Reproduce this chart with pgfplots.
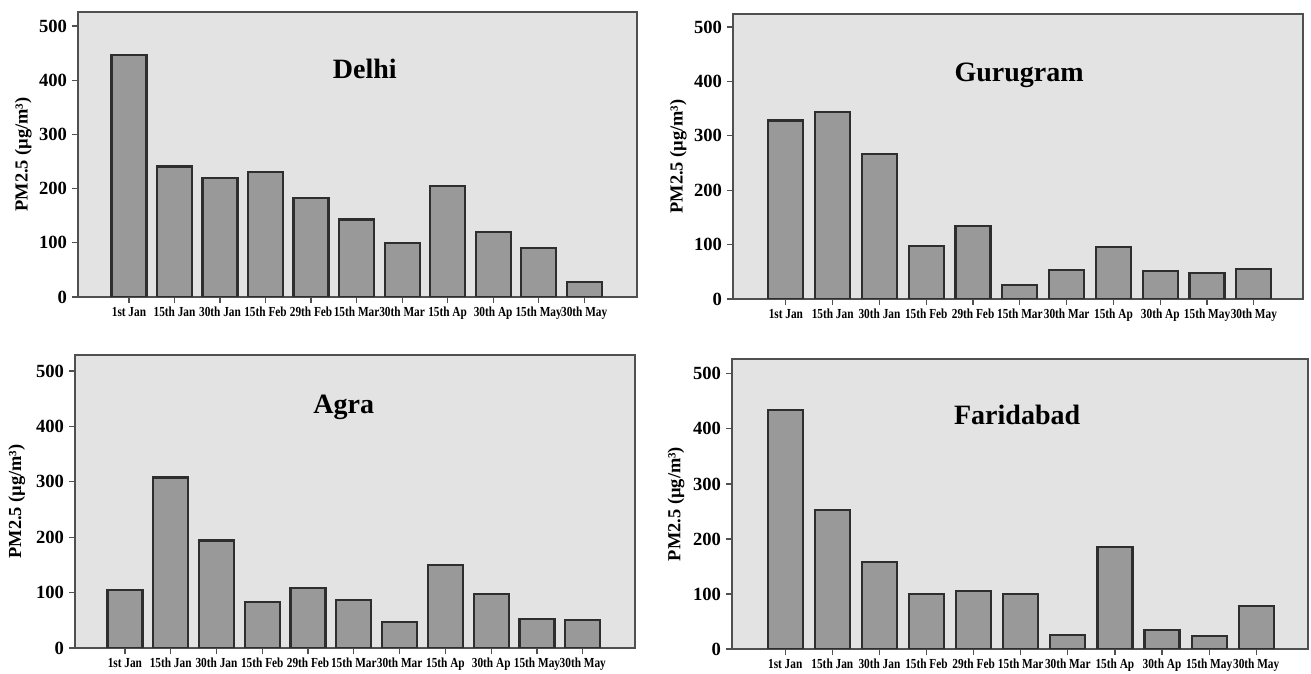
\documentclass[border=0pt]{standalone}
\usepackage{fontspec}
\setmainfont{Liberation Serif}
\newfontfamily\condfont[FakeStretch=0.82]{Liberation Serif}
\usepackage{pgfplots}
\pgfplotsset{compat=1.18}
\definecolor{bgc}{HTML}{E3E3E3}
\definecolor{barc}{HTML}{999999}
\definecolor{edgec}{HTML}{2E2E2E}
\definecolor{framec}{HTML}{505050}
\tikzset{ctitle/.style={font=\bfseries\fontsize{14}{14}\selectfont}}
\pgfplotsset{
  cityaxis/.style={
    scale only axis,
    anchor=south west,
    ymin=0,
    ytick={0,100,200,300,400,500},
    xtick={0,...,10},
    xticklabels={1st Jan,15th Jan,30th Jan,15th Feb,29th Feb,15th Mar,30th Mar,15th Ap,30th Ap,15th May,30th May},
    tick align=outside,
    tick pos=left,
    major tick length=3pt,
    tick style={framec, line width=0.6pt},
    axis line style={framec, line width=1pt},
    axis background/.style={fill=bgc},
    /pgf/number format/assume math mode=true,
    yticklabel style={font=\bfseries\fontsize{9.3}{9.3}\selectfont, xshift=1pt},
    xticklabel style={font=\condfont\bfseries\fontsize{6.9}{6.9}\selectfont, inner sep=1pt, yshift=-1pt},
    ylabel={PM2.5 (µg/m³)},
    ylabel style={font=\bfseries\fontsize{9.2}{9.2}\selectfont, anchor=center},
    ybar, bar width=17.5pt,
  },
  citybar/.style={fill=barc, draw=edgec, line width=1.1pt, bar shift=0pt},
}
\begin{document}
\begin{tikzpicture}
\useasboundingbox (0pt,0pt) rectangle (655.5pt,337pt);
% Delhi
\begin{axis}[cityaxis, at={(39pt,188.5pt)}, width=279.5pt, height=142.5pt,
  xmin=-1.12, xmax=11.16, ymax=526,
  ylabel style={at={(axis description cs:-0.098,0.5)}}]
\addplot[citybar] coordinates {(0,447) (1,241) (2,220) (3,231) (4,182) (5,143) (6,99) (7,205) (8,120) (9,90) (10,28)};
\node[ctitle] at (rel axis cs:0.513,0.80) {Delhi};
\end{axis}
% Gurugram
\begin{axis}[cityaxis, at={(366.5pt,187.5pt)}, width=285pt, height=142.5pt,
  xmin=-1.13, xmax=11.05, ymax=524,
  ylabel style={at={(axis description cs:-0.096,0.5)}}]
\addplot[citybar] coordinates {(0,328) (1,344) (2,266) (3,97) (4,134) (5,26) (6,54) (7,96) (8,52) (9,48) (10,55)};
\node[ctitle] at (rel axis cs:0.502,0.786) {Gurugram};
\end{axis}
% Agra
\begin{axis}[cityaxis, at={(37.5pt,13pt)}, width=280pt, height=146.5pt,
  xmin=-1.09, xmax=11.14, ymax=529,
  ylabel style={at={(axis description cs:-0.104,0.5)}}]
\addplot[citybar] coordinates {(0,104) (1,308) (2,194) (3,83) (4,108) (5,86) (6,47) (7,150) (8,98) (9,52) (10,50)};
\node[ctitle] at (rel axis cs:0.48,0.82) {Agra};
\end{axis}
% Faridabad
\begin{axis}[cityaxis, at={(366pt,12.5pt)}, width=288pt, height=145pt,
  xmin=-1.13, xmax=11.1, ymax=527,
  ylabel style={at={(axis description cs:-0.097,0.5)}}]
\addplot[citybar] coordinates {(0,434) (1,253) (2,158) (3,100) (4,105) (5,100) (6,25) (7,186) (8,34) (9,24) (10,78)};
\node[ctitle] at (rel axis cs:0.495,0.807) {Faridabad};
\end{axis}
\end{tikzpicture}
\end{document}
